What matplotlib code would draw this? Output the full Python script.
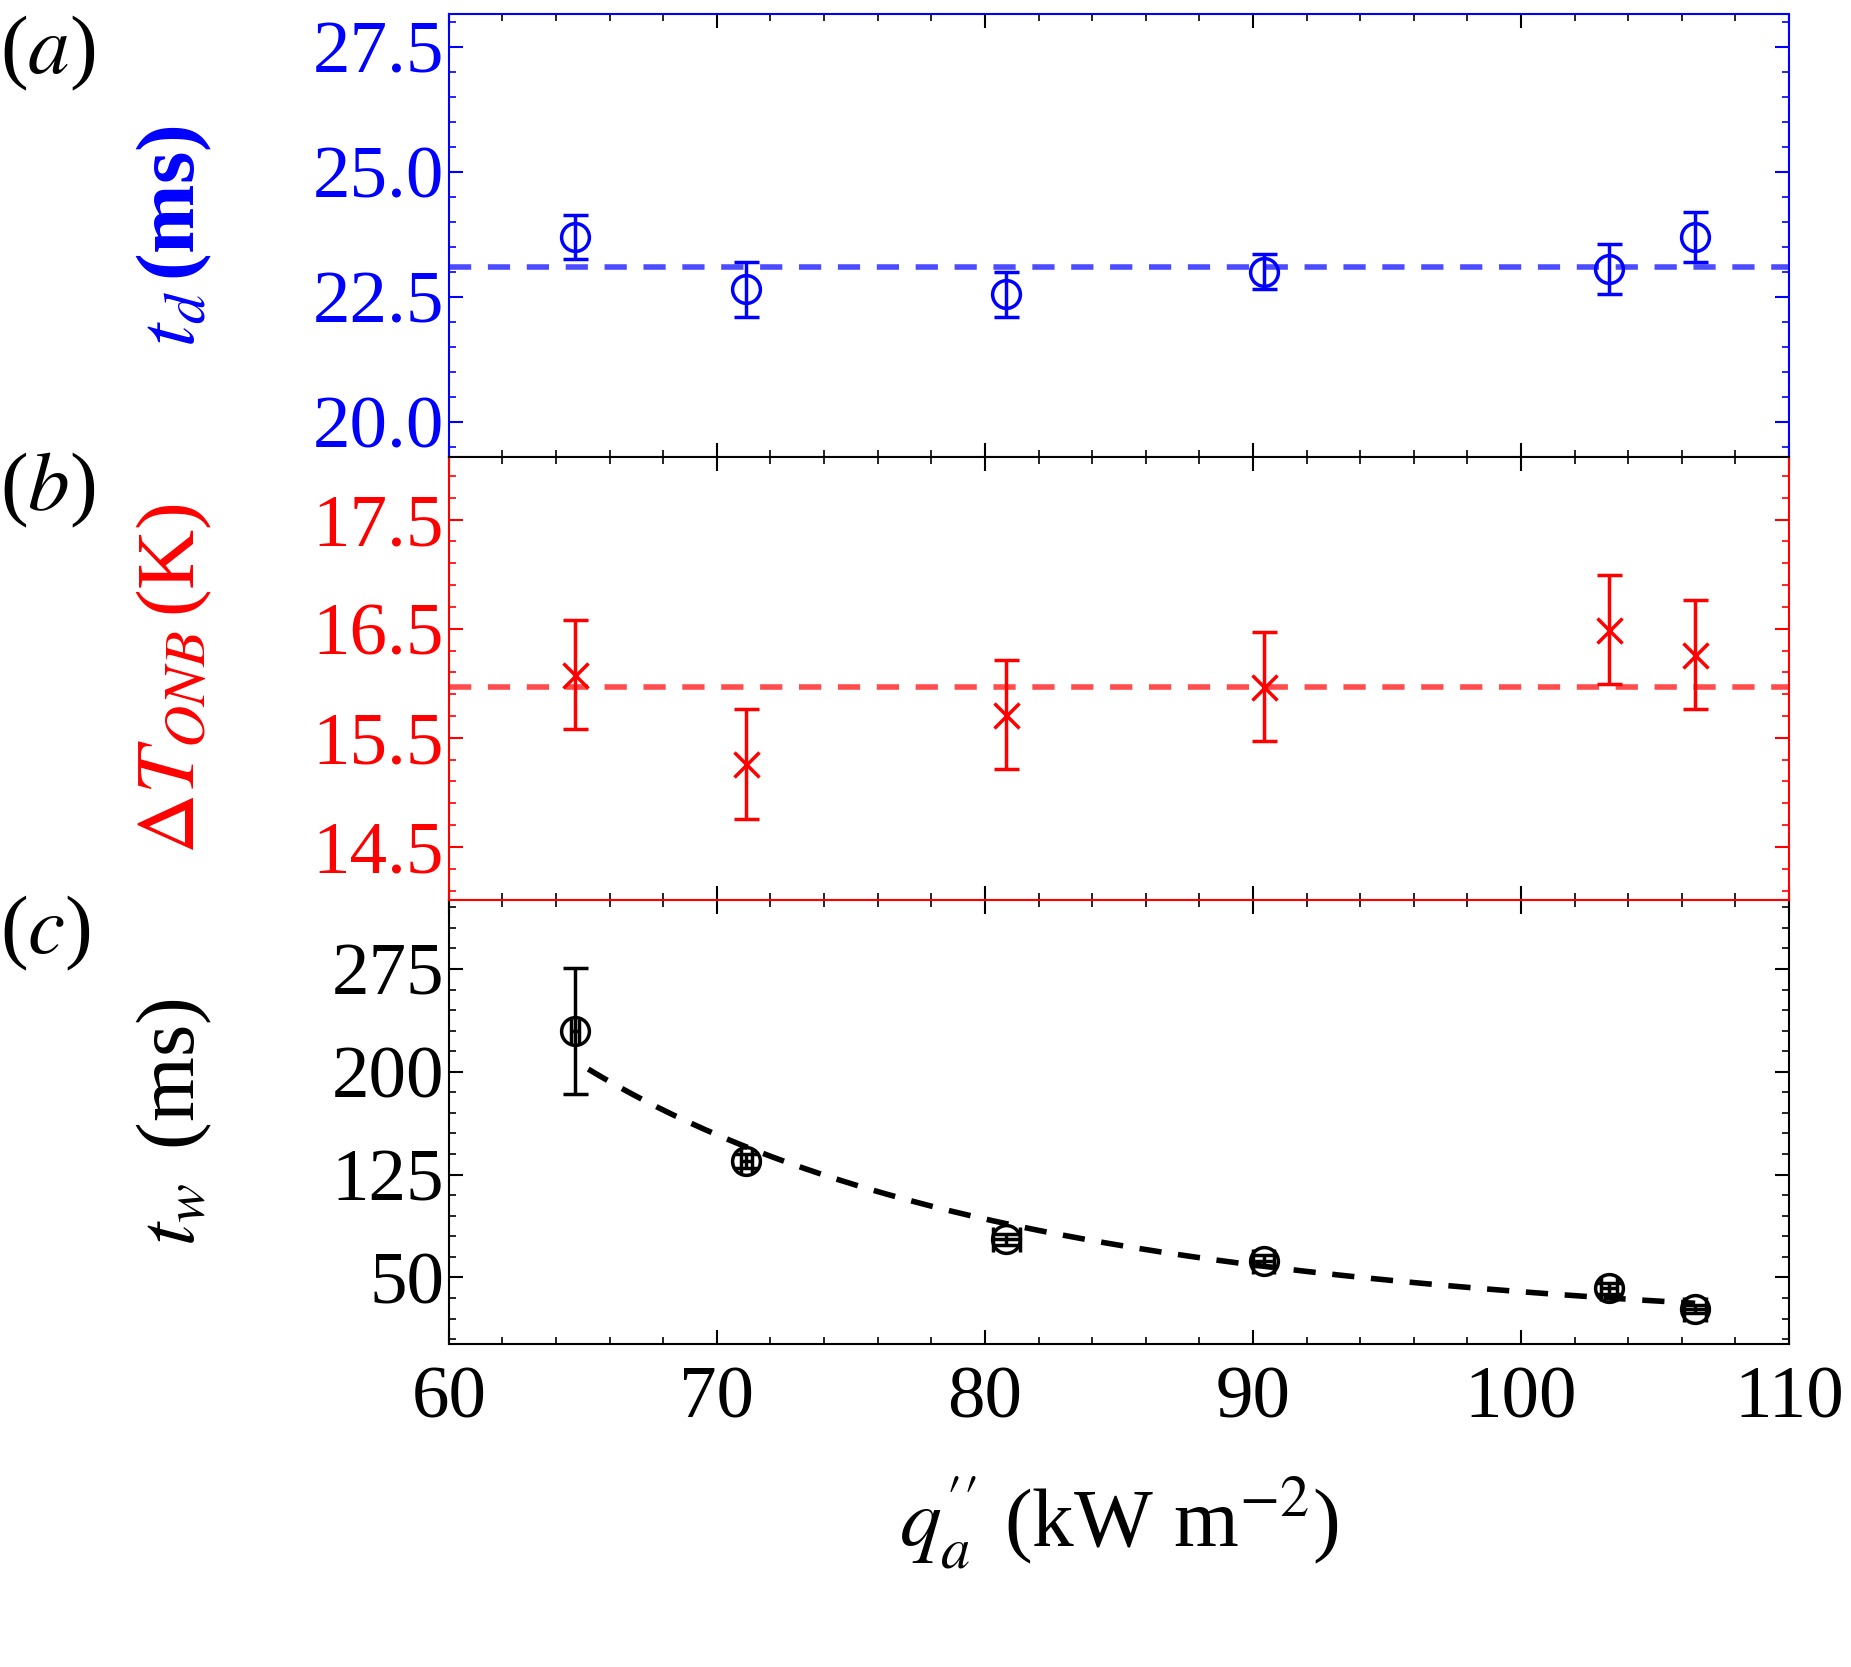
import numpy as np
import matplotlib.pyplot as plt
from matplotlib.ticker import AutoMinorLocator

plt.rcParams["font.family"] = "Liberation Serif"
plt.rcParams["mathtext.fontset"] = "stix"
plt.rcParams["font.size"] = 54

q = [64.7, 71.1, 80.8, 90.4, 103.3, 106.5]
t_d = [23.7, 22.65, 22.55, 23.0, 23.05, 23.7]
t_d_err = [0.45, 0.55, 0.45, 0.35, 0.5, 0.5]
t_d_mean = 23.1
dT_onb = [16.08, 15.26, 15.71, 15.97, 16.49, 16.26]
dT_onb_err = [0.5, 0.5, 0.5, 0.5, 0.5, 0.5]
dT_mean = 15.97
t_w = [230, 135, 78, 62, 42, 27]
t_w_err = [46, 5, 4, 4, 4, 3]
q_err = [0.15, 0.2, 0.5, 0.4, 0.3, 0.4]

fig = plt.figure(figsize=(18.51, 16.67), dpi=100)
left, right, bottom, top = 0.2425, 0.9665, 0.194, 0.9915
h = (top - bottom) / 3
axes = [fig.add_axes([left, bottom + (2 - i) * h, right - left, h]) for i in range(3)]
ax_a, ax_b, ax_c = axes

for ax in axes:
    ax.set_xlim(60, 110)
    ax.xaxis.set_minor_locator(AutoMinorLocator(5))
    ax.yaxis.set_minor_locator(AutoMinorLocator(5))
    ax.tick_params(which="both", direction="in", top=True, right=True)
    ax.tick_params(which="major", length=10, width=1.5)
    ax.tick_params(which="minor", length=5, width=1.2)
    for s in ax.spines.values():
        s.set_linewidth(1.5)

# (a)
blue = "#0000ff"
ax_a.errorbar(q, t_d, yerr=t_d_err, fmt="o", mfc="none", mec=blue, ecolor=blue,
              ms=20, mew=2.5, capsize=9, elinewidth=2.5, capthick=2.5)
ax_a.axhline(t_d_mean, color=blue, alpha=0.7, ls="--", lw=4, dashes=(4, 3))
ax_a.set_ylim(19.29, 28.16)
ax_a.set_yticks([20.0, 22.5, 25.0, 27.5])
ax_a.set_yticklabels(["20.0", "22.5", "25.0", "27.5"])
ax_a.tick_params(axis="y", colors=blue, which="both")
for s in ax_a.spines.values():
    s.set_color(blue)
ax_a.tick_params(axis="x", labelbottom=False)

# (b)
red = "#ff0000"
ax_b.errorbar(q, dT_onb, yerr=dT_onb_err, fmt="x", color=red, ms=18, mew=2.5,
              capsize=9, elinewidth=2.5, capthick=2.5)
ax_b.axhline(dT_mean, color=red, alpha=0.7, ls="--", lw=4, dashes=(4, 3))
ax_b.set_ylim(14.01, 18.07)
ax_b.set_yticks([14.5, 15.5, 16.5, 17.5])
ax_b.tick_params(axis="y", colors=red, which="both")
for s in ax_b.spines.values():
    s.set_color(red)
ax_b.spines["top"].set_color("black")
ax_b.tick_params(axis="x", labelbottom=False)

# (c)
ax_c.errorbar(q, t_w, yerr=t_w_err, xerr=q_err, fmt="o", mfc="none", mec="black",
              ecolor="black", ms=20, mew=2.5, capsize=9, elinewidth=2.5, capthick=2.5)
coef = np.polyfit(np.log(q), np.log(t_w), 1)
xf = np.linspace(65.2, 106.5, 200)
ax_c.plot(xf, np.exp(np.polyval(coef, np.log(xf))), "k--", lw=4, dashes=(4, 3))
ax_c.set_ylim(1.7, 325)
ax_c.set_yticks([50, 125, 200, 275])
ax_c.set_xticks([60, 70, 80, 90, 100, 110])
ax_c.tick_params(axis="x", pad=16)
ax_c.spines["top"].set_color(red)

ax_a.set_ylabel(r"$t_d\,$(ms)", color=blue, fontsize=60, fontweight="bold")
ax_b.set_ylabel(r"$\Delta T_{ONB}\,$(K)", color=red, fontsize=60)
ax_c.set_ylabel(r"$t_w\,$ (ms)", fontsize=60)
for ax in axes:
    ax.yaxis.set_label_coords(-0.175, 0.5)
ax_c.set_xlabel(r"$q_a^{\prime\prime}$ (kW m$^{-2}$)", fontsize=60, labelpad=30)

for lab, y in zip(["a", "b", "c"], [0.968, 0.706, 0.44]):
    fig.text(0.0, y, "(" + r"$\it{" + lab + "}$" + ")", fontsize=60, va="center")

fig.savefig("out.png", dpi=100)
